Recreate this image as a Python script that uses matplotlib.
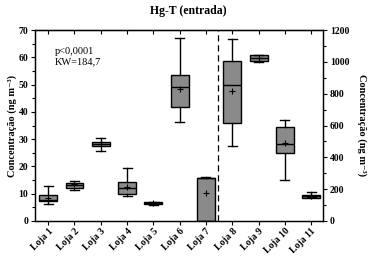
import numpy as np
import matplotlib
matplotlib.use('Agg')
import matplotlib.pyplot as plt

# ==========================================
# 資料
# ==========================================
lojas = ['Loja 1', 'Loja 2', 'Loja 3', 'Loja 4', 'Loja 5', 'Loja 6',
         'Loja 7', 'Loja 8', 'Loja 9', 'Loja 10', 'Loja 11']

# 左軸 (ng m-3, 0-70): Loja 1-7
left_whislo = [6.2, 11.3, 25.6, 9.1, 5.9, 36.4, 0.0]
left_q1     = [7.2, 12.0, 27.5, 9.8, 6.4, 41.9, 0.0]
left_med    = [7.6, 13.1, 28.2, 12.0, 6.7, 49.0, 15.8]
left_q3     = [9.5, 14.1, 29.1, 14.2, 6.9, 53.4, 15.9]
left_whishi = [12.8, 14.5, 30.3, 19.3, 7.1, 67.0, 16.1]
left_mean   = [8.4, 13.4, 28.3, 12.4, 6.6, 48.3, 10.2]

# 右軸 (ng m-3, 0-1200): Loja 8-11
right_whislo = [471, 998, 258, 150]
right_q1     = [618, 1007, 425, 146]
right_med    = [856, 1026, 482, 155]
right_q3     = [1007, 1041, 588, 163]
right_whishi = [1142, 1044, 634, 182]
right_mean   = [819, 1026, 488, 158]

stats_left = [dict(whislo=a, q1=b, med=c, q3=d, whishi=e, mean=f, fliers=[])
              for a, b, c, d, e, f in zip(left_whislo, left_q1, left_med,
                                          left_q3, left_whishi, left_mean)]
stats_right = [dict(whislo=a, q1=b, med=c, q3=d, whishi=e, mean=f, fliers=[])
               for a, b, c, d, e, f in zip(right_whislo, right_q1, right_med,
                                           right_q3, right_whishi, right_mean)]

pos_left = np.arange(1, 8)
pos_right = np.arange(8, 12)

# ==========================================
# 繪圖
# ==========================================
plt.rcParams['font.family'] = ['Liberation Serif', 'DejaVu Serif']

fig = plt.figure(figsize=(3.77, 2.63), dpi=100)
ax = fig.add_axes([35 / 377, 42 / 263, 288 / 377, 191 / 263])
ax2 = ax.twinx()

box_kw = dict(widths=0.68, patch_artist=True, showmeans=True,
              boxprops=dict(facecolor='#8a8a8a', edgecolor='black', lw=1.0),
              medianprops=dict(color='black', lw=1.0),
              whiskerprops=dict(color='black', lw=1.0),
              capprops=dict(color='black', lw=1.0),
              meanprops=dict(marker='+', markeredgecolor='black',
                             markersize=5, markeredgewidth=0.8))

ax.bxp(stats_left, positions=pos_left, **box_kw)
ax2.bxp(stats_right, positions=pos_right, **box_kw)

ax.set_xlim(0.5, 11.45)
ax.set_ylim(0, 70)
ax2.set_ylim(0, 1200)
ax.axvline(7.45, color='black', lw=0.9, linestyle=(0, (5, 3)))

ax.set_xticks(np.arange(1, 12))
ax.set_xticklabels(lojas, rotation=45, ha='right', rotation_mode='anchor',
                   fontsize=7, fontweight='bold')
ax.set_yticks(np.arange(0, 71, 10))
ax.set_yticks(np.arange(5, 70, 10), minor=True)
ax2.set_yticks(np.arange(0, 1201, 200))
ax2.set_yticks(np.arange(100, 1200, 200), minor=True)

for a in (ax, ax2):
    a.tick_params(axis='y', labelsize=7, width=0.8, length=3, pad=2)
    a.tick_params(axis='y', which='minor', width=0.8, length=2)
    for lbl in a.get_yticklabels():
        lbl.set_fontweight('bold')
ax.tick_params(axis='x', width=0.8, length=3, pad=1)

top = ax.secondary_xaxis('top')
top.set_xticks(np.arange(1, 12))
top.set_xticklabels([])
top.tick_params(direction='in', length=3, width=0.8)

for sp in ax.spines.values():
    sp.set_linewidth(0.9)
for sp in ax2.spines.values():
    sp.set_linewidth(0.9)

ylab = 'Concentração (ng m⁻³)'
ax.set_ylabel(ylab, fontsize=7.5, fontweight='bold', labelpad=1)
ax2.set_ylabel(ylab, fontsize=7.5, fontweight='bold', rotation=-90,
               labelpad=12)

ax.text(0.07, 0.91, 'p<0,0001\nKW=184,7', transform=ax.transAxes,
        fontsize=7.5, va='top', linespacing=1.1)

fig.text(188 / 377, 1 - 11 / 263, 'Hg-T (entrada)', ha='center', va='center',
         fontsize=8.5, fontweight='bold')

fig.savefig('out.png', dpi=100)
